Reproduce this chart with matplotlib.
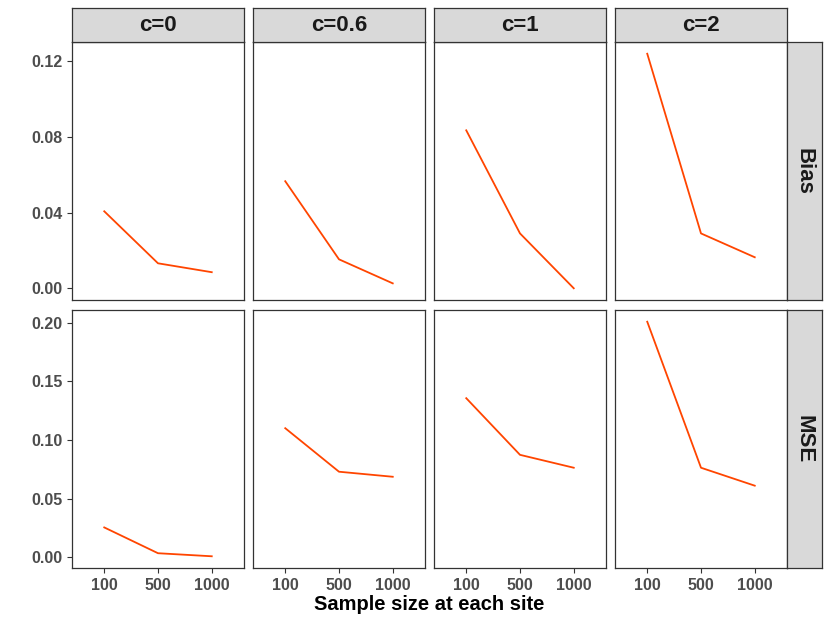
import numpy as np
import matplotlib.pyplot as plt

plt.rcParams['font.family'] = ['Liberation Sans', 'DejaVu Sans']

# data
sizes = ['100', '500', '1000']
c_labels = ['c=0', 'c=0.6', 'c=1', 'c=2']
bias = {
    'c=0': [0.0407, 0.0132, 0.0085],
    'c=0.6': [0.0566, 0.0153, 0.0026],
    'c=1': [0.0835, 0.0290, 0.0000],
    'c=2': [0.1240, 0.0290, 0.0164],
}
mse = {
    'c=0': [0.0254, 0.0034, 0.0008],
    'c=0.6': [0.1100, 0.0729, 0.0686],
    'c=1': [0.1356, 0.0873, 0.0763],
    'c=2': [0.2008, 0.0763, 0.0610],
}
rows = [('Bias', bias, [0.00, 0.04, 0.08, 0.12], '{:.2f}'),
        ('MSE', mse, [0.00, 0.05, 0.10, 0.15, 0.20], '{:.2f}')]

W, H = 830, 623
fig = plt.figure(figsize=(W / 100, H / 100), dpi=100)

def box(x0, y0, x1, y1):
    # pixel box (top-left origin) -> figure fraction rect
    return [x0 / W, 1 - y1 / H, (x1 - x0) / W, (y1 - y0) / H]

col_left = [72, 253, 434, 615]
pw = 172
row_top = [(42, 300), (310, 568)]
border = '#333333'
tick_col = '#4D4D4D'

for r, (name, data, yticks, fmt) in enumerate(rows):
    allv = np.concatenate([data[k] for k in c_labels])
    lo, hi = allv.min(), allv.max()
    pad = (hi - lo) * 0.05
    y0, y1 = row_top[r]
    for c, lab in enumerate(c_labels):
        ax = fig.add_axes(box(col_left[c], y0, col_left[c] + pw, y1))
        ax.plot(np.arange(1, 4), data[lab], color='#FF4500', lw=1.3)
        ax.set_xlim(0.4, 3.6)
        ax.set_ylim(lo - pad, hi + pad)
        for s in ax.spines.values():
            s.set_color(border)
            s.set_linewidth(0.9)
        ax.tick_params(color=border, length=3.5, width=0.8,
                       labelsize=11.5, labelcolor=tick_col)
        ax.set_xticks(np.arange(1, 4))
        ax.set_yticks(yticks)
        if r == 1:
            ax.set_xticklabels(sizes, fontweight='bold')
        else:
            ax.tick_params(axis='x', length=0, labelbottom=False)
        if c == 0:
            ax.set_yticklabels([fmt.format(v) for v in yticks], fontweight='bold')
        else:
            ax.tick_params(axis='y', length=0, labelleft=False)

        if r == 0:
            sx = fig.add_axes(box(col_left[c], 8, col_left[c] + pw, 42))
            sx.set_facecolor('#D9D9D9')
            sx.set_xticks([])
            sx.set_yticks([])
            for s in sx.spines.values():
                s.set_color(border)
                s.set_linewidth(0.9)
            sx.text(0.5, 0.48, lab, ha='center', va='center', fontsize=16,
                    fontweight='bold', color='#1A1A1A', transform=sx.transAxes)

    sy = fig.add_axes(box(787, y0, 822, y1))
    sy.set_facecolor('#D9D9D9')
    sy.set_xticks([])
    sy.set_yticks([])
    for s in sy.spines.values():
        s.set_color(border)
        s.set_linewidth(0.9)
    sy.text(0.5, 0.5, name, ha='center', va='center', fontsize=16,
            fontweight='bold', color='#1A1A1A', rotation=-90,
            transform=sy.transAxes)

fig.text(429.5 / W, 1 - 604 / H, 'Sample size at each site', ha='center',
         va='center', fontsize=14.5, fontweight='bold', color='black')

fig.savefig('out.png', dpi=100)
